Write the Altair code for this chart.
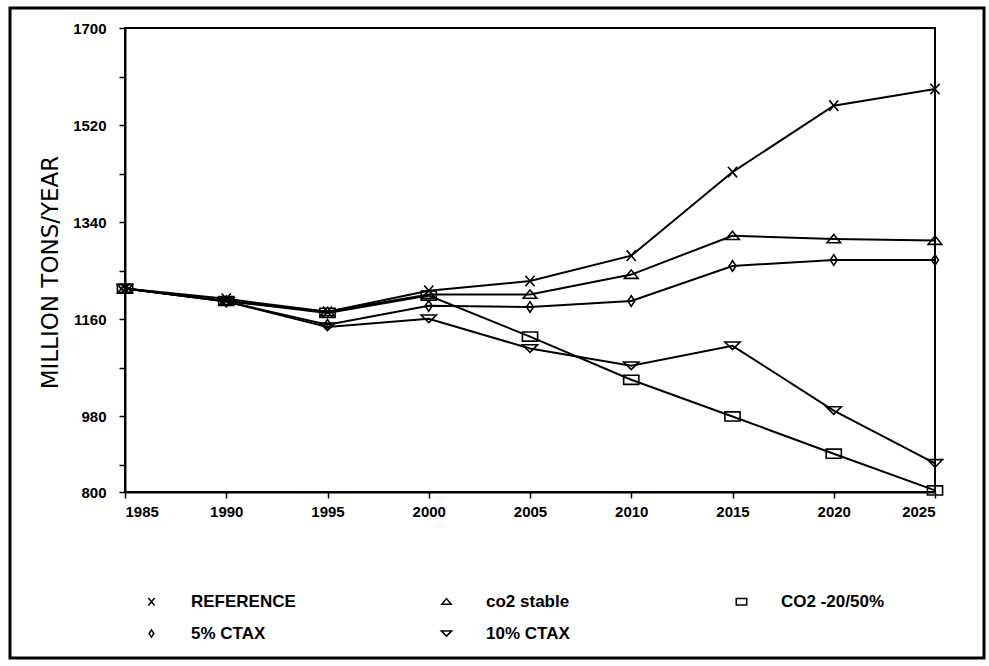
import altair as alt
import pandas as pd

years = [1985, 1990, 1995, 2000, 2005, 2010, 2015, 2020, 2025]
series_names = ["REFERENCE", "co2 stable", "CO2 -20/50%", "5% CTAX", "10% CTAX"]
reference = [1217, 1198, 1174, 1213, 1231, 1278, 1433, 1556, 1587]
co2_stable = [1217, 1194, 1174, 1206, 1206, 1243, 1315, 1309, 1306]
co2_cut = [1217, 1194, 1172, 1204, 1128, 1048, 980, 911, 843]
ctax5 = [1217, 1193, 1150, 1185, 1183, 1194, 1259, 1270, 1270]
ctax10 = [1217, 1193, 1146, 1161, 1106, 1074, 1111, 991, 893]
y_ticks = [840, 890, 980, 1070, 1160, 1250, 1340, 1430, 1520, 1610, 1700]

shapes = [
    "M-0.6,-0.7L0.6,0.7M0.6,-0.7L-0.6,0.7",
    "M0,-0.6L0.9,0.5L-0.9,0.5Z",
    "M-1,-0.6L1,-0.6L1,0.6L-1,0.6Z",
    "M0,-0.7L0.45,0L0,0.7L-0.45,0Z",
    "M-1,-0.5L1,-0.5L0,0.5Z",
]

rows = []
for name, vals in zip(series_names, [reference, co2_stable, co2_cut, ctax5, ctax10]):
    for yr, v in zip(years, vals):
        rows.append({"year": yr, "value": v, "series": name})
df = pd.DataFrame(rows)

FONT = "Liberation Sans"

x_enc = alt.X("year:Q", scale=alt.Scale(domain=[1985, 2025], nice=False),
              axis=alt.Axis(values=years, format="d", title=None, grid=False,
                            labelFont=FONT, labelFontSize=15, labelFontWeight="bold",
                            labelColor="black", tickColor="black", domainColor="black",
                            domainWidth=2, tickWidth=1.5, tickSize=6, labelPadding=6))
y_enc = alt.Y("value:Q", scale=alt.Scale(domain=[840, 1700], nice=False, zero=False),
              axis=alt.Axis(values=y_ticks, format="d", grid=False,
                            labelExpr="datum.value == 840 ? '800' : ((datum.value - 980) % 180 == 0 ? datum.label : '')",
                            title="MILLION TONS/YEAR", titleFont="DejaVu Sans", titleFontSize=23,
                            titleFontWeight="normal", titleColor="black", titleX=-75, titleY=244,
                            titleAngle=-90, titleAlign="center", titleBaseline="middle",
                            labelFont=FONT, labelFontSize=15, labelFontWeight="bold",
                            labelColor="black", tickColor="black", domainColor="black",
                            domainWidth=2, tickWidth=1.5, tickSize=6, labelPadding=13))

lines = alt.Chart(df).mark_line(color="black", strokeWidth=2).encode(
    x=x_enc, y=y_enc, detail="series:N"
)

points = alt.Chart(df).mark_point(filled=False, color="black", strokeWidth=1.6, size=230, opacity=1).encode(
    x=x_enc, y=y_enc,
    shape=alt.Shape("series:N", scale=alt.Scale(domain=series_names, range=shapes),
                    legend=alt.Legend(orient="none", legendX=18, legendY=565, columns=3,
                                      direction="horizontal", title=None, padding=0,
                                      gridAlign="all",
                                      symbolSize=110, symbolStrokeWidth=1.5,
                                      symbolStrokeColor="black", symbolFillColor="transparent",
                                      labelFont=FONT, labelFontSize=17, labelFontWeight="bold",
                                      labelColor="black", labelOffset=31, columnPadding=142,
                                      rowPadding=14, labelLimit=300))
)

frame = alt.Chart(alt.Data(values=[{}])).mark_rect(
    fillOpacity=0, stroke="black", strokeWidth=3
).encode(x=alt.value(-115), x2=alt.value(859), y=alt.value(-20), y2=alt.value(630))

chart = alt.layer(frame, lines, points).properties(
    width=810, height=464,
    autosize=alt.AutoSizeParams(type="none"),
    padding={"left": 125, "top": 28, "right": 54, "bottom": 174},
    background="white",
).configure_view(stroke="black", strokeWidth=2)

chart.save("out.html", embed_options={"renderer": "svg", "actions": False})
